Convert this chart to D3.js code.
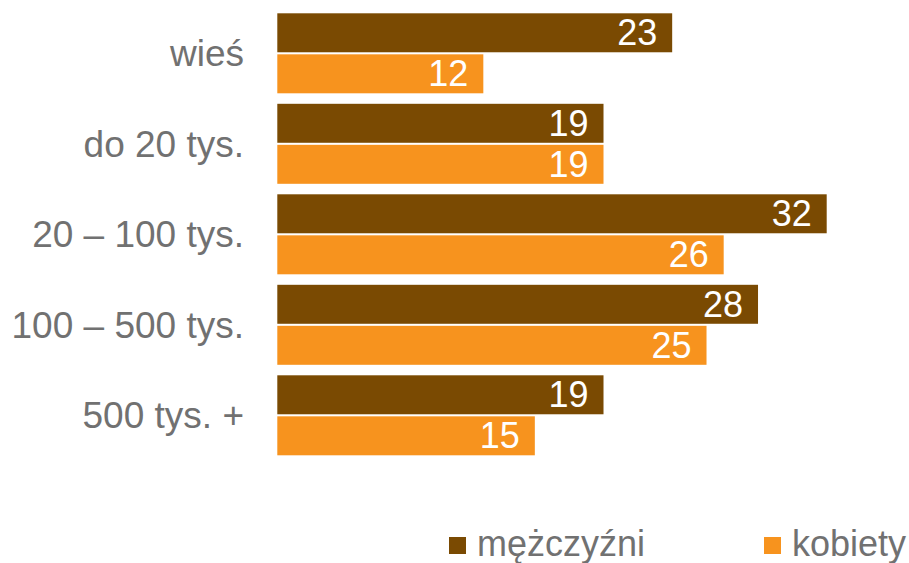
<!DOCTYPE html>
<html>
<head>
<meta charset="utf-8">
<script src="https://cdn.jsdelivr.net/npm/d3@7"></script>
<style>
  html, body { margin: 0; padding: 0; background: #fff; }
  svg { display: block; font-family: "Liberation Sans", Arial, sans-serif; }
</style>
</head>
<body>
<svg id="chart" width="909" height="563"></svg>
<script>
// Place of residence categories (top to bottom)
const categories = ["wieś", "do 20 tys.", "20 – 100 tys.", "100 – 500 tys.", "500 tys. +"];
// Series
const seriesNames = ["mężczyźni", "kobiety"];
const men = [23, 19, 32, 28, 19];
const women = [12, 19, 26, 25, 15];
const seriesColors = ["#7a4a02", "#f7931e"];

const svg = d3.select("#chart");

const x = d3.scaleLinear().domain([0, 35]).range([277.3, 878.2]);

const y0 = d3.scaleBand()
  .domain(categories)
  .range([8.05, 460.55])
  .paddingInner(0.116)
  .paddingOuter(0.058);

const y1 = d3.scaleBand()
  .domain(seriesNames)
  .range([0, y0.bandwidth()])
  .paddingInner(0.05);

const color = d3.scaleOrdinal().domain(seriesNames).range(seriesColors);

const rows = categories.map((c, i) => ({
  cat: c,
  values: [
    { s: seriesNames[0], v: men[i] },
    { s: seriesNames[1], v: women[i] }
  ]
}));

// Category labels
svg.append("g")
  .selectAll("text")
  .data(categories)
  .join("text")
  .attr("x", 244)
  .attr("y", d => y0(d) + y0.bandwidth() / 2)
  .attr("dy", "0.35em")
  .attr("text-anchor", "end")
  .attr("font-size", 37)
  .attr("fill", "#717171")
  .text(d => d);

// Bars with value labels
const groups = svg.append("g")
  .selectAll("g")
  .data(rows)
  .join("g")
  .attr("transform", d => `translate(0,${y0(d.cat)})`);

groups.selectAll("rect")
  .data(d => d.values)
  .join("rect")
  .attr("x", x(0))
  .attr("y", d => y1(d.s))
  .attr("width", d => x(d.v) - x(0))
  .attr("height", y1.bandwidth())
  .attr("fill", d => color(d.s));

groups.selectAll("text")
  .data(d => d.values)
  .join("text")
  .attr("x", d => x(d.v) - 15)
  .attr("y", d => y1(d.s) + y1.bandwidth() / 2)
  .attr("dy", "0.35em")
  .attr("text-anchor", "end")
  .attr("font-size", 36)
  .attr("fill", "#ffffff")
  .text(d => d.v);

// Legend
const legendX = [449, 764];
const legend = svg.append("g")
  .selectAll("g")
  .data(seriesNames)
  .join("g")
  .attr("transform", (d, i) => `translate(${legendX[i]},537)`);

legend.append("rect")
  .attr("width", 17)
  .attr("height", 17)
  .attr("fill", d => color(d));

legend.append("text")
  .attr("x", 28)
  .attr("y", 19)
  .attr("font-size", 36)
  .attr("fill", "#717171")
  .text(d => d);
</script>
</body>
</html>
